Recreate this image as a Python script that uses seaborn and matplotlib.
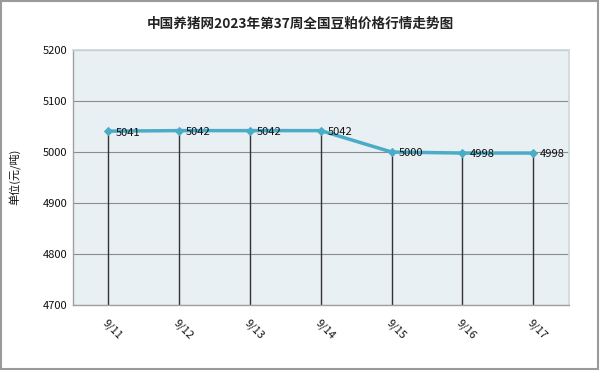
import matplotlib
matplotlib.use('Agg')
import matplotlib.pyplot as plt
import seaborn as sns
import pandas as pd
from matplotlib.patches import Rectangle

# data
dates = ['9/11', '9/12', '9/13', '9/14', '9/15', '9/16', '9/17']
prices = [5041, 5042, 5042, 5042, 5000, 4998, 4998]
y_ticks = [4700, 4800, 4900, 5000, 5100, 5200]

title = '中国养猪网2023年第37周全国豆粕价格行情走势图'
y_label = '单位(元/吨)'

sns.set_theme(style='white')
plt.rcParams['font.family'] = ['Noto Sans CJK SC', 'DejaVu Sans']

df = pd.DataFrame({'date': dates, 'price': prices})
df['pos'] = range(len(df))

fig = plt.figure(figsize=(6, 3.7), dpi=100)
ax = fig.add_axes([0.1217, 0.1757, 0.826, 0.689])
ax.set_facecolor('#E9F0F4')

line_color = '#4AACC6'

# drop lines from each point to the bottom
ax.vlines(df['pos'], y_ticks[0], df['price'], color='#333333', linewidth=1.0, zorder=2)

sns.lineplot(data=df, x='pos', y='price', ax=ax, color=line_color, linewidth=2.5,
             marker='D', markersize=4, markeredgecolor=line_color, zorder=3)

for x, y in zip(df['pos'], df['price']):
    ax.annotate(str(y), (x, y), xytext=(5, -1), textcoords='offset points',
                fontsize=8, va='center', ha='left', color='#111111', zorder=4)

ax.set_xlim(-0.5, len(dates) - 0.5)
ax.set_ylim(y_ticks[0], y_ticks[-1])
ax.set_yticks(y_ticks)
ax.set_yticklabels([str(t) for t in y_ticks], fontsize=8, color='#111111')
ax.yaxis.grid(True, color='#8C8C8C', linewidth=0.8)
ax.set_axisbelow(True)

ax.set_xticks(df['pos'])
ax.set_xticklabels(dates, rotation=-45, ha='left', rotation_mode='anchor', fontsize=8, color='#111111')
ax.set_xticks([p + 0.5 for p in range(len(dates))], minor=True)
ax.tick_params(axis='x', which='major', length=0, pad=9)
ax.tick_params(axis='x', which='minor', length=-3, direction='in', color='#999999', bottom=True)
ax.tick_params(axis='y', length=0, pad=4)

ax.set_xlabel('')
ax.set_ylabel('')
fig.text(15 / 600, 1 - 177 / 370, y_label, rotation=90, ha='center', va='center',
         fontsize=8, color='#111111')

for side in ['left', 'bottom']:
    ax.spines[side].set_color('#A0A0A0')
    ax.spines[side].set_linewidth(1.0)
for side in ['top', 'right']:
    ax.spines[side].set_color('#D0D8DC')

fig.text(0.5, 1 - 24 / 370, title, ha='center', va='center', fontsize=9.8,
         fontweight='bold', color='#222222')

# outer frame
fig.patches.append(Rectangle((0.002, 0.003), 0.995, 0.994, transform=fig.transFigure,
                             fill=False, edgecolor='#9A9A9A', linewidth=1.5))

fig.savefig('out.png', dpi=100)
